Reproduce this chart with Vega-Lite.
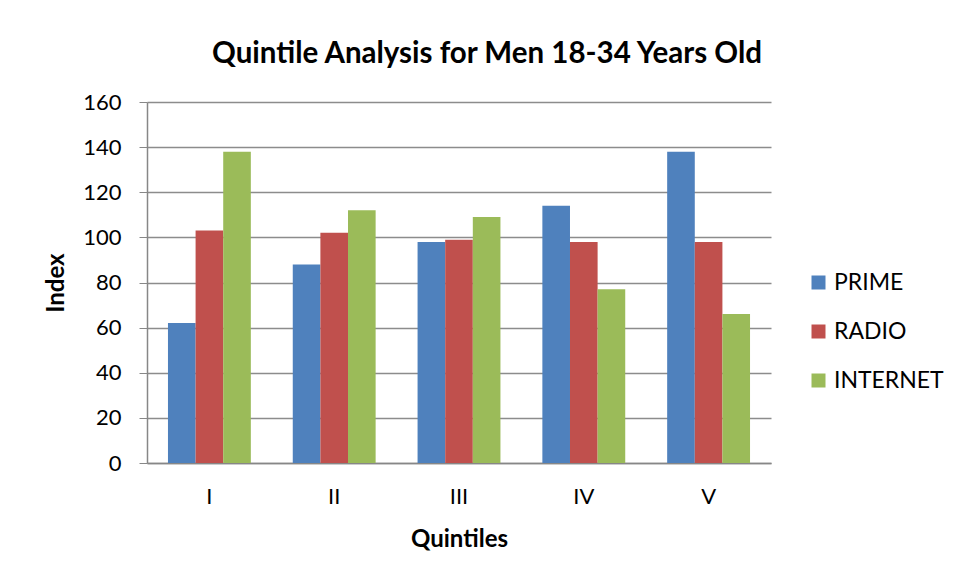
{
  "$schema": "https://vega.github.io/schema/vega-lite/v6.json",
  "width": 624,
  "height": 361,
  "autosize": {"type": "none"},
  "padding": {"left": 147, "top": 102, "right": 186, "bottom": 121},
  "background": "white",
  "config": {
    "font": "Lato",
    "view": {"stroke": null}
  },
  "title": {
    "text": "Quintile Analysis for Men 18-34 Years Old",
    "fontSize": 29.5,
    "fontWeight": "bold",
    "font": "Lato",
    "color": "black",
    "anchor": "middle",
    "dx": 28,
    "offset": 22
  },
  "data": {
    "values": [
      {"quintile": "I", "series": "PRIME", "index": 62},
      {"quintile": "I", "series": "RADIO", "index": 103},
      {"quintile": "I", "series": "INTERNET", "index": 138},
      {"quintile": "II", "series": "PRIME", "index": 88},
      {"quintile": "II", "series": "RADIO", "index": 102},
      {"quintile": "II", "series": "INTERNET", "index": 112},
      {"quintile": "III", "series": "PRIME", "index": 98},
      {"quintile": "III", "series": "RADIO", "index": 99},
      {"quintile": "III", "series": "INTERNET", "index": 109},
      {"quintile": "IV", "series": "PRIME", "index": 114},
      {"quintile": "IV", "series": "RADIO", "index": 98},
      {"quintile": "IV", "series": "INTERNET", "index": 77},
      {"quintile": "V", "series": "PRIME", "index": 138},
      {"quintile": "V", "series": "RADIO", "index": 98},
      {"quintile": "V", "series": "INTERNET", "index": 66}
    ]
  },
  "mark": {"type": "bar"},
  "encoding": {
    "x": {
      "field": "quintile",
      "type": "nominal",
      "sort": ["I", "II", "III", "IV", "V"],
      "scale": {"paddingInner": 0.336, "paddingOuter": 0.168},
      "axis": {
        "title": "Quintiles",
        "titleFontSize": 24,
        "titleFontWeight": "bold",
        "titleColor": "black",
        "titlePadding": 20,
        "labelAngle": 0,
        "labelFontSize": 22,
        "labelColor": "black",
        "labelPadding": 23,
        "ticks": false,
        "domainColor": "#878787",
        "domainWidth": 1.5
      }
    },
    "xOffset": {"field": "series", "sort": ["PRIME", "RADIO", "INTERNET"]},
    "y": {
      "field": "index",
      "type": "quantitative",
      "scale": {"domain": [0, 160]},
      "axis": {
        "title": "Index",
        "titleFontSize": 24,
        "titleFontWeight": "bold",
        "titleColor": "black",
        "titlePadding": 14,
        "values": [0, 20, 40, 60, 80, 100, 120, 140, 160],
        "labelFontSize": 22,
        "labelColor": "black",
        "labelPadding": 18,
        "tickSize": 8,
        "tickColor": "#878787",
        "domainColor": "#878787",
        "domainWidth": 1.5,
        "grid": true,
        "gridColor": "#8c8c8c",
        "gridWidth": 1.5
      }
    },
    "color": {
      "field": "series",
      "type": "nominal",
      "sort": ["PRIME", "RADIO", "INTERNET"],
      "scale": {"domain": ["PRIME", "RADIO", "INTERNET"], "range": ["#4F81BD", "#C0504D", "#9BBB59"]},
      "legend": {
        "title": null,
        "orient": "none",
        "legendX": 660,
        "legendY": 169,
        "symbolType": "square",
        "symbolSize": 196,
        "symbolStrokeWidth": 0,
        "symbolOpacity": 1,
        "labelFontSize": 23,
        "labelColor": "black",
        "labelOffset": 4,
        "rowPadding": 25
      }
    }
  }
}
